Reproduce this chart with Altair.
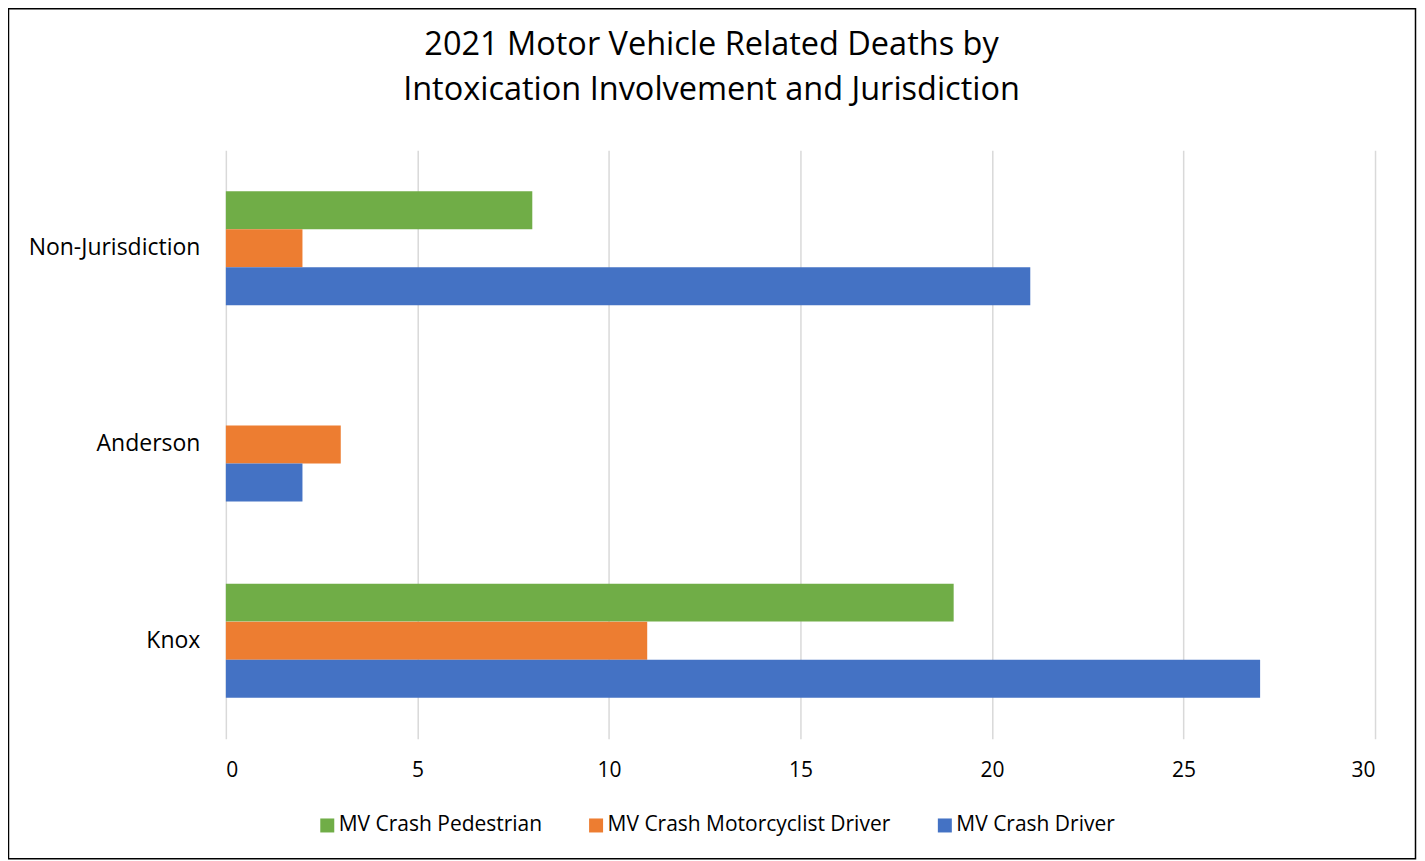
import altair as alt
import pandas as pd

jurisdictions = ["Non-Jurisdiction", "Anderson", "Knox"]
series = ["MV Crash Pedestrian", "MV Crash Motorcyclist Driver", "MV Crash Driver"]
pedestrian = [8, 0, 19]
motorcyclist = [2, 3, 11]
driver = [21, 2, 27]
colors = ["#70AD47", "#ED7D31", "#4472C4"]
x_ticks = [0, 5, 10, 15, 20, 25, 30]

rows = []
for s, vals in zip(series, [pedestrian, motorcyclist, driver]):
    for j, v in zip(jurisdictions, vals):
        rows.append({"Jurisdiction": j, "Series": s, "Deaths": v})
df = pd.DataFrame(rows)

FONT = "Open Sans"
W, H = 1150, 589

bars = alt.Chart(df).mark_bar(size=38).encode(
    x=alt.X("Deaths:Q",
            scale=alt.Scale(domain=[0, 30], nice=False),
            axis=alt.Axis(values=x_ticks, title=None, grid=True, gridColor="#D9D9D9",
                          gridWidth=1.5, domain=False, ticks=False, labelFontSize=21,
                          labelColor="#000000", labelFont=FONT, labelPadding=21)),
    y=alt.Y("Jurisdiction:N", sort=jurisdictions,
            scale=alt.Scale(paddingInner=0.418, paddingOuter=0.209),
            axis=alt.Axis(title=None, domain=False, ticks=False, grid=False, labelFontSize=23,
                          labelColor="#000000", labelFont=FONT, labelPadding=26)),
    yOffset=alt.YOffset("Series:N", sort=series, scale=alt.Scale(paddingInner=0, paddingOuter=0)),
    color=alt.Color("Series:N", sort=series,
                    scale=alt.Scale(domain=series, range=colors),
                    legend=alt.Legend(title=None, orient="none", direction="horizontal",
                                      legendX=91, legendY=665, symbolType="square",
                                      symbolSize=196, symbolStrokeWidth=0, labelFontSize=21,
                                      labelFont=FONT, labelColor="#000000", columnPadding=43,
                                      symbolOffset=0, labelOffset=1, labelLimit=0)),
)

frame = alt.Chart(pd.DataFrame({"a": [0]})).mark_rect(
    fill=None, stroke="#000000", strokeWidth=1.5, clip=False
).encode(
    x=alt.value(-217.5), x2=alt.value(1190.5), y=alt.value(-141.5), y2=alt.value(709)
)

chart = alt.layer(bars, frame).properties(
    width=W, height=H,
    background="#FFFFFF",
    autosize=alt.AutoSizeParams(type="none"),
    padding={"left": 218, "top": 142, "right": 42, "bottom": 121},
    title=alt.TitleParams(
        text=["2021 Motor Vehicle Related Deaths by", "Intoxication Involvement and Jurisdiction"],
        font=FONT, fontSize=32.5, fontWeight="normal", color="#000000",
        anchor="middle", dx=-89, dy=125, offset=0, lineHeight=46, frame="group",
        baseline="alphabetic",
    ),
).configure_view(strokeWidth=0, stroke=None)

chart.save("out.html", embed_options={"renderer": "svg", "actions": False})
